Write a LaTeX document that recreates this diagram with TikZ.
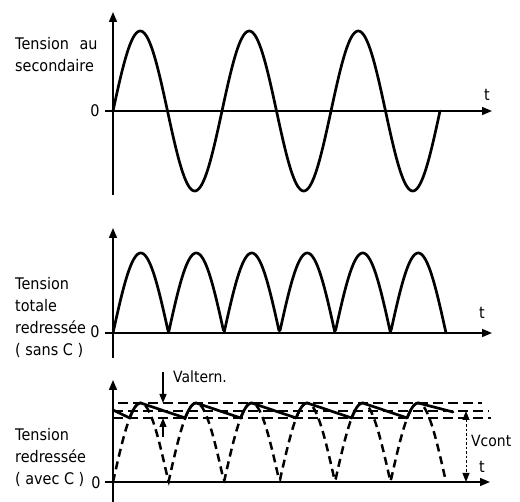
\documentclass[tikz,border=0pt]{standalone}
\usepackage{fontspec}
\setmainfont[FakeStretch=0.9]{DejaVu Sans}
\usetikzlibrary{arrows.meta}
\begin{document}
\begin{tikzpicture}[x=1pt,y=-1pt,
  axis/.style={line width=1.5pt},
  arr/.style={-{Triangle[length=10pt,width=8pt]}},
  curve/.style={line width=2.7pt, line join=round, line cap=round},
  dcurve/.style={line width=2.5pt, dash pattern=on 8pt off 5pt},
  hdash/.style={line width=1.4pt, dash pattern=on 10pt off 5pt},
  lbl/.style={anchor=west, inner sep=0pt, align=left, font=\fontsize{16}{22}\selectfont},
  tl/.style={inner sep=0pt, font=\fontsize{16}{18}\selectfont}]
\useasboundingbox (0,0) rectangle (520,502);

% ---------- panel 1 ----------
\coordinate (y1b) at (113,195); \coordinate (y1t) at (113,12);
\coordinate (x1a) at (105,111); \coordinate (x1b) at (492,111);
\draw[axis,arr] (y1b) -- (y1t);
\draw[axis,arr] (x1a) -- (x1b);
\node[tl] (z1) at (95,111) {0};
\node[tl] (t1) at (487,95) {t};
\node[lbl] (L1) at (15,55) {Tension\hspace{6pt} au\\secondaire};
\draw[curve] plot[domain=0:327, samples=240] ({113+\x},{111-80*sin(\x/109*360)});

% ---------- panel 2 ----------
\coordinate (y2b) at (113,358); \coordinate (y2t) at (113,228);
\coordinate (x2a) at (105,333); \coordinate (x2b) at (492,333);
\draw[axis,arr] (y2b) -- (y2t);
\draw[axis,arr] (x2a) -- (x2b);
\node[tl] (z2) at (95,332) {0};
\node[tl] (t2) at (482,313) {t};
\node[lbl] (L2) at (15,317) {Tension\\totale\\redressée\\( sans C )};
\draw[curve] plot[domain=0:333, samples=300] ({113+\x},{333-80*abs(sin(\x/111*360))});

% ---------- panel 3 ----------
\coordinate (y3b) at (113,502); \coordinate (y3t) at (113,380);
\coordinate (x3a) at (105,482); \coordinate (x3b) at (490,482);
\draw[axis,arr] (y3b) -- (y3t);
\draw[axis,arr] (x3a) -- (x3b);
\node[tl] (z3) at (96,483) {0};
\node[tl] (t3) at (482,467) {t};
\node[lbl] (L3) at (15,457) {Tension\\redressée\\( avec C )};
\draw[dcurve] plot[domain=0:333, samples=300] ({113+\x},{482-79*abs(sin(\x/111*360))});

% horizontal dashed levels
\coordinate (hta) at (118,403); \coordinate (htb) at (482,403);
\coordinate (hma) at (113,411); \coordinate (hmb) at (489,411);
\coordinate (hba) at (113,418); \coordinate (hbb) at (491,418);
\draw[hdash] (hta) -- (htb);
\draw[hdash] (hma) -- (hmb);
\draw[hdash] (hba) -- (hbb);

% ripple curve
\coordinate (r0) at (113,410); \coordinate (r1) at (129.7,418);
\draw[curve] (r0) -- (r1);
\foreach \k in {0,...,4}{
  \pgfmathsetmacro{\c}{113+55.5*\k}
  \pgfmathsetmacro{\v}{113+55.5*(\k+1)+16.7}
  \draw[curve] plot[domain=16.7:27.75, samples=20] ({\c+\x},{482-79*sin(\x/111*360)}) -- (\v,418);
}
\coordinate (rend) at (453,412);
\draw[curve] plot[domain=16.7:27.75, samples=20] ({390.5+\x},{482-79*sin(\x/111*360)}) -- (rend);

% Valtern arrows
\coordinate (va1) at (163,372); \coordinate (va2) at (163,403);
\coordinate (vb1) at (163,437); \coordinate (vb2) at (163,418);
\draw[line width=1.4pt,-{Triangle[length=9pt,width=7pt]}] (va1) -- (va2);
\draw[line width=1.4pt,-{Triangle[length=9pt,width=7pt]}] (vb1) -- (vb2);
\node[anchor=west, inner sep=0pt, font=\fontsize{15.5}{18}\selectfont] (valt) at (173,377) {Valtern.};

% Vcont arrow
\coordinate (vc1) at (466,411); \coordinate (vc2) at (466,482);
\draw[line width=1pt, dash pattern=on 2.5pt off 2pt, {Triangle[length=9pt,width=7pt]}-{Triangle[length=9pt,width=7pt]}] (vc1) -- (vc2);
\node[anchor=west, inner sep=0pt, font=\fontsize{15.5}{18}\selectfont] (vcont) at (471,441) {Vcont};
\end{tikzpicture}
\end{document}
